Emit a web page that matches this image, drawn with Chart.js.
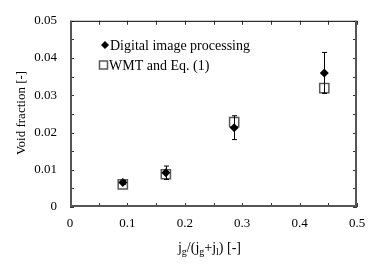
<!DOCTYPE html>
<html lang="en">
<head>
    <meta charset="UTF-8">
    <title>Void fraction</title>
    <script src="https://cdn.jsdelivr.net/npm/chart.js@4.4.0/dist/chart.umd.min.js"></script>
    <style>
        * { margin: 0; padding: 0; }
        body { background: #fff; width: 376px; height: 265px; overflow: hidden; }
        canvas { display: block; }
    </style>
</head>
<body>
    <canvas id="chart" width="376" height="265"></canvas>

    <script>
        // data
        const jgRatio = [0.092, 0.167, 0.286, 0.443];
        const voidImage = [0.0066, 0.0092, 0.0213, 0.0360];
        const voidImageErr = [0.0005, 0.0018, 0.0032, 0.0055];
        const voidWmt = [0.0061, 0.0088, 0.0228, 0.0319];
        const seriesNames = ['Digital image processing', 'WMT and Eq. (1)'];
        const xTicks = [0, 0.1, 0.2, 0.3, 0.4, 0.5];
        const yTicks = [0, 0.01, 0.02, 0.03, 0.04, 0.05];

        const FONT = "'Liberation Serif', 'Times New Roman', serif";
        const SQ_COLOR = '#5a5a5a';

        const near = (v, list) => list.some(t => Math.abs(t - v) < 1e-9);

        const framePlugin = {
            id: 'frame',
            afterDatasetsDraw(chart) {
                const ctx = chart.ctx;
                const x = chart.scales.x, y = chart.scales.y;

                // error bars on the image-processing series
                ctx.save();
                ctx.strokeStyle = '#000';
                ctx.lineWidth = 1;
                jgRatio.forEach((v, i) => {
                    const px = Math.round(x.getPixelForValue(v)) + 0.5;
                    const hi = y.getPixelForValue(voidImage[i] + voidImageErr[i]);
                    const lo = y.getPixelForValue(voidImage[i] - voidImageErr[i]);
                    ctx.beginPath();
                    ctx.moveTo(px, hi); ctx.lineTo(px, lo);
                    ctx.moveTo(px - 2.5, hi); ctx.lineTo(px + 2.5, hi);
                    ctx.moveTo(px - 2.5, lo); ctx.lineTo(px + 2.5, lo);
                    ctx.stroke();
                });
                ctx.restore();
            },
            afterDraw(chart) {
                const ctx = chart.ctx;
                const { left, right, top, bottom } = chart.chartArea;
                const x = chart.scales.x, y = chart.scales.y;
                ctx.save();

                // inward tick marks on all four sides
                ctx.strokeStyle = '#333';
                ctx.lineWidth = 1;
                ctx.beginPath();
                x.ticks.forEach(t => {
                    const px = Math.round(x.getPixelForValue(t.value)) + 0.5;
                    ctx.moveTo(px, bottom); ctx.lineTo(px, bottom - 4);
                    ctx.moveTo(px, top); ctx.lineTo(px, top + 4);
                });
                y.ticks.forEach(t => {
                    const py = Math.round(y.getPixelForValue(t.value)) + 0.5;
                    ctx.moveTo(left, py); ctx.lineTo(left + 4, py);
                    ctx.moveTo(right, py); ctx.lineTo(right - 4, py);
                });
                ctx.stroke();

                // frame
                ctx.strokeStyle = '#000';
                ctx.lineWidth = 1;
                ctx.beginPath();
                ctx.moveTo(left, top + 0.5); ctx.lineTo(right, top + 0.5);
                ctx.stroke();
                ctx.strokeStyle = '#555';
                ctx.lineWidth = 2;
                ctx.beginPath();
                ctx.moveTo(left + 1, top); ctx.lineTo(left + 1, bottom - 1);
                ctx.lineTo(right - 1, bottom - 1); ctx.lineTo(right - 1, top);
                ctx.stroke();

                // legend
                ctx.fillStyle = '#000';
                ctx.font = '14px ' + FONT;
                ctx.textBaseline = 'middle';
                ctx.textAlign = 'left';
                ctx.beginPath();
                ctx.moveTo(105, 41); ctx.lineTo(109, 45); ctx.lineTo(105, 49); ctx.lineTo(101, 45);
                ctx.closePath();
                ctx.fill();
                ctx.fillText(seriesNames[0], 110, 46);
                ctx.strokeStyle = SQ_COLOR;
                ctx.lineWidth = 1.5;
                ctx.strokeRect(99.5, 61, 8, 8);
                ctx.fillText(seriesNames[1], 109, 66);

                // y title
                ctx.save();
                ctx.translate(22, 113);
                ctx.rotate(-Math.PI / 2);
                ctx.textAlign = 'center';
                ctx.font = '13px ' + FONT;
                ctx.fillText('Void fraction [-]', 0, 0);
                ctx.restore();

                // x title with subscripts
                const parts = [['j', 0], ['g', 1], ['/(j', 0], ['g', 1], ['+j', 0], ['l', 1], [') [-]', 0]];
                const big = '14px ' + FONT, small = '10px ' + FONT;
                let w = 0;
                parts.forEach(p => { ctx.font = p[1] ? small : big; w += ctx.measureText(p[0]).width; });
                let cx = (left + right) / 2 - 4 - w / 2;
                ctx.textBaseline = 'alphabetic';
                parts.forEach(p => {
                    ctx.font = p[1] ? small : big;
                    ctx.fillText(p[0], cx, p[1] ? 255 : 252);
                    cx += ctx.measureText(p[0]).width;
                });
                ctx.restore();
            }
        };

        new Chart(document.getElementById('chart'), {
            type: 'scatter',
            data: {
                datasets: [{
                    label: seriesNames[0],
                    data: jgRatio.map((v, i) => ({ x: v, y: voidImage[i] })),
                    pointStyle: 'rectRot',
                    pointRadius: 4.5,
                    backgroundColor: '#000',
                    borderColor: '#000',
                    borderWidth: 0
                }, {
                    label: seriesNames[1],
                    data: jgRatio.map((v, i) => ({ x: v, y: voidWmt[i] })),
                    pointStyle: 'rect',
                    pointRadius: 6.5,
                    backgroundColor: 'rgba(0,0,0,0)',
                    borderColor: SQ_COLOR,
                    borderWidth: 1.5
                }]
            },
            options: {
                responsive: false,
                animation: false,
                layout: { padding: { top: 16, right: 19, left: 0, bottom: 0 } },
                plugins: {
                    legend: { display: false },
                    tooltip: { enabled: false }
                },
                scales: {
                    x: {
                        type: 'linear',
                        min: 0, max: 0.5,
                        afterFit: s => { s.height = 58; },
                        grid: { display: false, drawTicks: false },
                        border: { display: false },
                        ticks: {
                            stepSize: 0.05,
                            autoSkip: false,
                            maxRotation: 0,
                            padding: 9,
                            color: '#000',
                            font: { family: FONT, size: 13 },
                            callback: v => near(v, xTicks) ? String(Math.round(v * 10) / 10) : ''
                        }
                    },
                    y: {
                        type: 'linear',
                        min: 0, max: 0.05,
                        afterFit: s => { s.width = 70; },
                        grid: { display: false, drawTicks: false },
                        border: { display: false },
                        ticks: {
                            stepSize: 0.005,
                            autoSkip: false,
                            padding: 13,
                            color: '#000',
                            font: { family: FONT, size: 13 },
                            callback: v => near(v, yTicks) ? String(Math.round(v * 100) / 100) : ''
                        }
                    }
                }
            },
            plugins: [framePlugin]
        });
    </script>
</body>
</html>
